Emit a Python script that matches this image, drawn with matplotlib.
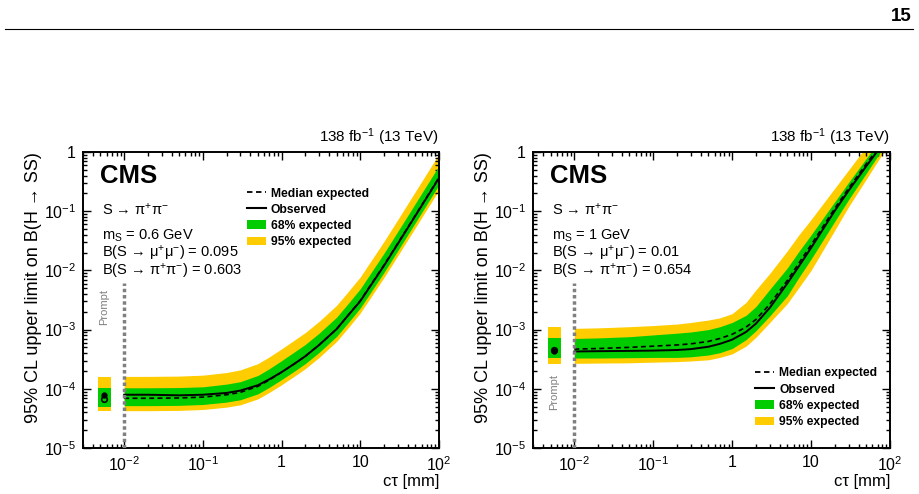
import matplotlib
matplotlib.use('Agg')
import matplotlib.pyplot as plt
import numpy as np
from matplotlib.ticker import LogLocator, FuncFormatter, NullFormatter
from matplotlib.patches import Patch
from matplotlib.lines import Line2D

plt.rcParams['font.family'] = ['Liberation Sans', 'DejaVu Sans']
plt.rcParams['mathtext.fontset'] = 'custom'
plt.rcParams['mathtext.rm'] = 'Liberation Sans'
plt.rcParams['mathtext.it'] = 'Liberation Sans'

# ---- data ----
ct = [0.01, 0.02, 0.05, 0.1, 0.2, 0.3, 0.5, 0.7, 1, 1.5, 2, 3, 5, 7, 10, 20, 30, 50, 100]

# m_S = 0.6 GeV
obs_06 = [7.94e-5, 7.94e-5, 7.76e-5, 7.94e-5, 8.51e-5, 9.33e-5, 1.15e-4, 1.45e-4, 1.91e-4, 2.72e-4,
          3.55e-4, 5.5e-4, 1.02e-3, 1.74e-3, 3.02e-3, 1.2e-2, 2.82e-2, 8.32e-2, 0.363]
med_06 = [6.92e-5, 6.92e-5, 7.0e-5, 7.24e-5, 7.94e-5, 8.71e-5, 1.10e-4, 1.41e-4, 1.91e-4, 2.72e-4,
          3.55e-4, 5.5e-4, 1.02e-3, 1.74e-3, 3.09e-3, 1.23e-2, 2.88e-2, 8.51e-2, 0.372]
y_hi_06 = [1.62e-4, 1.62e-4, 1.64e-4, 1.70e-4, 1.88e-4, 2.09e-4, 2.66e-4, 3.47e-4, 4.73e-4, 6.84e-4,
           8.91e-4, 1.38e-3, 2.57e-3, 4.37e-3, 7.76e-3, 3.09e-2, 7.24e-2, 0.214, 0.93]
g_hi_06 = [1.04e-4, 1.04e-4, 1.05e-4, 1.08e-4, 1.2e-4, 1.32e-4, 1.68e-4, 2.19e-4, 2.99e-4, 4.32e-4,
           5.62e-4, 8.71e-4, 1.62e-3, 2.75e-3, 4.9e-3, 1.95e-2, 4.57e-2, 0.135, 0.589]
g_lo_06 = [5.19e-5, 5.19e-5, 5.25e-5, 5.43e-5, 5.96e-5, 6.53e-5, 8.22e-5, 1.06e-4, 1.43e-4, 2.04e-4,
           2.66e-4, 4.12e-4, 7.67e-4, 1.3e-3, 2.32e-3, 9.23e-3, 2.16e-2, 6.38e-2, 0.279]
y_lo_06 = [4.27e-5, 4.27e-5, 4.32e-5, 4.47e-5, 4.9e-5, 5.37e-5, 6.76e-5, 8.71e-5, 1.17e-4, 1.68e-4,
           2.19e-4, 3.39e-4, 6.31e-4, 1.07e-3, 1.91e-3, 7.59e-3, 1.78e-2, 5.25e-2, 0.229]
prompt_06 = dict(obs=7.8e-5, med=6.8e-5, g=(5.0e-5, 1.03e-4), y=(4.2e-5, 1.6e-4))

# m_S = 1 GeV
obs_1 = [4.27e-4, 4.32e-4, 4.37e-4, 4.42e-4, 4.52e-4, 4.68e-4, 5.13e-4, 5.75e-4, 6.76e-4, 9.12e-4,
         1.26e-3, 2.34e-3, 6.03e-3, 1.17e-2, 2.4e-2, 0.102, 0.224, 0.575, 2.0]
med_1 = [4.68e-4, 4.79e-4, 5.01e-4, 5.25e-4, 5.5e-4, 5.75e-4, 6.31e-4, 7.08e-4, 8.32e-4, 1.1e-3,
         1.48e-3, 2.69e-3, 6.76e-3, 1.32e-2, 2.69e-2, 0.112, 0.245, 0.631, 2.14]
y_hi_1 = [1.05e-3, 1.07e-3, 1.12e-3, 1.17e-3, 1.24e-3, 1.32e-3, 1.45e-3, 1.58e-3, 1.86e-3, 2.88e-3,
          4.68e-3, 8.9e-3, 2.14e-2, 3.98e-2, 7.24e-2, 0.245, 0.5, 1.23, 4.0]
g_hi_1 = [7.08e-4, 7.24e-4, 7.59e-4, 8.13e-4, 8.7e-4, 9.12e-4, 1.0e-3, 1.12e-3, 1.32e-3, 1.74e-3,
          2.45e-3, 4.79e-3, 1.1e-2, 2.09e-2, 3.98e-2, 0.145, 0.309, 0.776, 2.75]
g_lo_1 = [3.31e-4, 3.31e-4, 3.35e-4, 3.39e-4, 3.39e-4, 3.47e-4, 3.72e-4, 4.07e-4, 4.79e-4, 6.76e-4,
          9.55e-4, 1.70e-3, 3.72e-3, 7.59e-3, 1.55e-2, 6.76e-2, 0.158, 0.437, 1.74]
y_lo_1 = [2.69e-4, 2.72e-4, 2.75e-4, 2.82e-4, 2.88e-4, 2.95e-4, 3.09e-4, 3.39e-4, 3.89e-4, 5.25e-4,
          7.41e-4, 1.32e-3, 2.75e-3, 5.13e-3, 1.0e-2, 4.79e-2, 0.12, 0.347, 1.48]
prompt_1 = dict(obs=4.3e-4, med=4.6e-4, g=(3.35e-4, 7.1e-4), y=(2.6e-4, 1.1e-3))

prompt_x = [4.6e-3, 6.8e-3]
prompt_mark = 5.6e-3

GREEN = '#00cc00'
YELLOW = '#ffcc00'


def log_fmt(v, pos):
    e = int(round(np.log10(v)))
    if e == 0:
        return '1'
    if e == 1:
        return '10'
    return r'$\mathregular{10^{%d}}$' % e


def draw_panel(ax, obs, med, g_lo, g_hi, y_lo, y_hi, prompt, info, leg_xy, prompt_txt_y):
    # displaced bands
    ax.fill_between(ct, y_lo, y_hi, color=YELLOW, lw=0, zorder=1)
    ax.fill_between(ct, g_lo, g_hi, color=GREEN, lw=0, zorder=2)
    ax.plot(ct, med, color='k', ls=(0, (3, 2)), lw=1.2, zorder=3)
    ax.plot(ct, obs, color='k', lw=1.4, zorder=4)
    # prompt point
    ax.fill_between(prompt_x, *prompt['y'], color=YELLOW, lw=0, zorder=1)
    ax.fill_between(prompt_x, *prompt['g'], color=GREEN, lw=0, zorder=2)
    ax.plot([prompt_mark], [prompt['med']], 'o', mfc='none', mec='k', ms=4, mew=1.2, zorder=5)
    ax.plot([prompt_mark], [prompt['obs']], 'o', color='k', ms=3.5, zorder=5)
    ax.plot([0.01, 0.01], [1e-5, 6.2e-3], color='grey', ls=(0, (1, 0.8)), lw=2.5, zorder=6)
    ax.text(prompt_mark, prompt_txt_y, 'Prompt', rotation=90, color='grey',
            fontsize=8, ha='center', va='center')

    ax.set_xscale('log')
    ax.set_yscale('log')
    ax.set_xlim(3e-3, 100)
    ax.set_ylim(1e-5, 1)
    for axis in (ax.xaxis, ax.yaxis):
        axis.set_major_locator(LogLocator(base=10, numticks=20))
        axis.set_minor_locator(LogLocator(base=10, subs=np.arange(2, 10), numticks=20))
        axis.set_major_formatter(FuncFormatter(log_fmt))
        axis.set_minor_formatter(NullFormatter())
    ax.tick_params(which='both', direction='in', top=True, right=True, labelsize=11.5, width=1)
    ax.tick_params(which='major', length=6, pad=5)
    ax.tick_params(which='minor', length=3)
    for s in ax.spines.values():
        s.set_linewidth(1.4)

    ax.set_xlabel('cτ [mm]', fontsize=12, loc='right', labelpad=0)
    ax.set_ylabel('95% CL upper limit on B(H → SS)', fontsize=13, loc='top', labelpad=1)
    ax.text(1.0, 1.015, r'138 fb$\mathregular{^{-1}}$ (13 TeV)', transform=ax.transAxes,
            ha='right', va='bottom', fontsize=11)
    ax.text(0.048, 0.894, 'CMS', transform=ax.transAxes, fontsize=18.5, fontweight='bold', va='baseline')
    ax.text(0.052, 0.787, r'S → $\mathregular{\pi^{+}\pi^{-}}$',
            transform=ax.transAxes, fontsize=10.5, va='baseline')
    ys = [0.703, 0.643, 0.584]
    for yy, t in zip(ys, info):
        ax.text(0.052, yy, t, transform=ax.transAxes, fontsize=10.5, va='baseline')

    handles = [Line2D([], [], color='k', ls=(0, (3, 2)), lw=1.3),
               Line2D([], [], color='k', lw=1.5),
               Patch(color=GREEN, lw=0),
               Patch(color=YELLOW, lw=0)]
    labels = ['Median expected', 'Observed', '68% expected', '95% expected']
    ax.legend(handles, labels, loc='upper left', bbox_to_anchor=leg_xy, frameon=False,
              prop={'weight': 'bold', 'size': 8.7}, borderpad=0, borderaxespad=0,
              handlelength=1.6, handleheight=0.75, handletextpad=0.4, labelspacing=0.35)


fig = plt.figure(figsize=(9.2, 4.94), dpi=100)
ax1 = fig.add_axes([83 / 920, 46 / 494, 356 / 920, 296 / 494])
ax2 = fig.add_axes([533 / 920, 46 / 494, 357 / 920, 296 / 494])

draw_panel(ax1, obs_06, med_06, g_lo_06, g_hi_06, y_lo_06, y_hi_06, prompt_06,
           [r'$\mathregular{m_{S}}$ = 0.6 GeV',
            r'B(S → $\mathregular{\mu^{+}\mu^{-}}$) = 0.095',
            r'B(S → $\mathregular{\pi^{+}\pi^{-}}$) = 0.603'],
           (0.46, 0.88), 2.4e-3)
draw_panel(ax2, obs_1, med_1, g_lo_1, g_hi_1, y_lo_1, y_hi_1, prompt_1,
           [r'$\mathregular{m_{S}}$ = 1 GeV',
            r'B(S → $\mathregular{\mu^{+}\mu^{-}}$) = 0.01',
            r'B(S → $\mathregular{\pi^{+}\pi^{-}}$) = 0.654'],
           (0.622, 0.272), 8.9e-5)

# page header
fig.text(912 / 920, 1 - 21 / 494, '15', ha='right', va='baseline', fontsize=13.5, fontweight='bold')
fig.add_artist(Line2D([5 / 920, 913 / 920], [1 - 29.5 / 494] * 2, color='k', lw=0.8))

fig.savefig('out.png', dpi=100)
